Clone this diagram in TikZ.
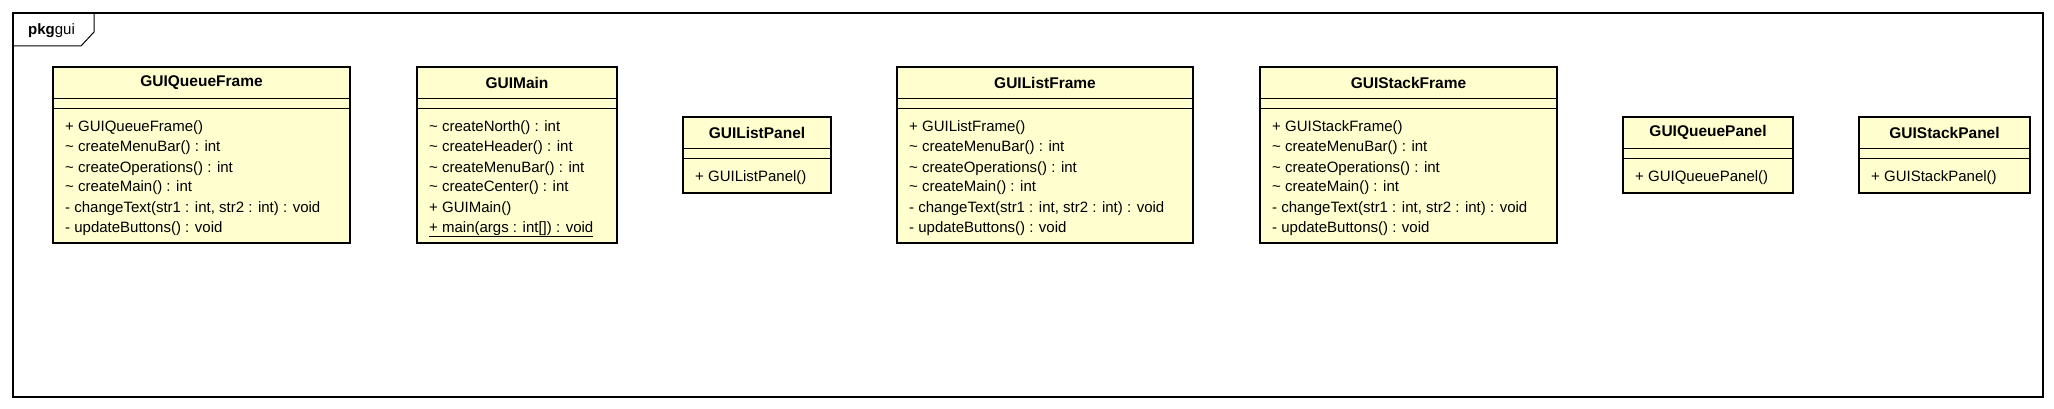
\documentclass[tikz,border=0pt]{standalone}
\usepackage{fontspec}
\setmainfont{Liberation Sans}
\definecolor{classfill}{HTML}{FEFECE}
\tikzset{
	classbox/.style={draw,line width=2.4pt,fill=classfill,rectangle,outer sep=0pt,inner sep=0pt,anchor=north west},
	classname/.style={font=\fontsize{15.5}{17}\bfseries\selectfont,inner sep=0pt},
	member/.style={font=\fontsize{15}{17}\selectfont,anchor=base west,inner sep=0pt},
	sep/.style={line width=0.9pt}
}
\begin{document}
\begin{tikzpicture}[x=1pt,y=-1pt]
		\useasboundingbox (0,0) rectangle (2054,409);
		% package frame
		\draw[line width=1.2pt] (13,13) rectangle (2043,397);
		\draw[line width=1pt] (94,13) -- (94,32) -- (81,46) -- (13,46);
		\node[member] (pkg) at (28,35) {\textbf{pkg}gui};
		% GUIQueueFrame
		\node[classbox,minimum width=297pt,minimum height=176pt] (qframe) at (53,67) {};
		\node[classname] (qframe-t) at ([yshift=-15.5pt]qframe.north) {GUIQueueFrame};
		\draw[sep] ([yshift=-31pt]qframe.north west) -- ([yshift=-31pt]qframe.north east);
		\draw[sep] ([yshift=-41pt]qframe.north west) -- ([yshift=-41pt]qframe.north east);
		\foreach \m [count=\i from 0] in {+ GUIQueueFrame(),\textasciitilde{} createMenuBar() : int,\textasciitilde{} createOperations() : int,\textasciitilde{} createMain() : int,{- changeText(str1 : int, str2 : int) : void},- updateButtons() : void}
			\node[member] (qframe-\i) at ([xshift=12pt,yshift={-65pt-20pt*\i}]qframe.north west) {\m};
		% GUIMain
		\node[classbox,minimum width=200pt,minimum height=176pt] (main) at (417,67) {};
		\node[classname] (main-t) at ([yshift=-15.5pt]main.north) {GUIMain};
		\draw[sep] ([yshift=-31pt]main.north west) -- ([yshift=-31pt]main.north east);
		\draw[sep] ([yshift=-41pt]main.north west) -- ([yshift=-41pt]main.north east);
		\foreach \m [count=\i from 0] in {\textasciitilde{} createNorth() : int,\textasciitilde{} createHeader() : int,\textasciitilde{} createMenuBar() : int,\textasciitilde{} createCenter() : int,+ GUIMain(),\underline{+ main(args : int[]) : void}}
			\node[member] (main-\i) at ([xshift=12pt,yshift={-65pt-20pt*\i}]main.north west) {\m};
		% GUIListPanel
		\node[classbox,minimum width=148pt,minimum height=76pt] (lpanel) at (683,117) {};
		\node[classname] (lpanel-t) at ([yshift=-15.5pt]lpanel.north) {GUIListPanel};
		\draw[sep] ([yshift=-31pt]lpanel.north west) -- ([yshift=-31pt]lpanel.north east);
		\draw[sep] ([yshift=-41pt]lpanel.north west) -- ([yshift=-41pt]lpanel.north east);
		\node[member] (lpanel-0) at ([xshift=12pt,yshift=-65pt]lpanel.north west) {+ GUIListPanel()};
		% GUIListFrame
		\node[classbox,minimum width=296pt,minimum height=176pt] (lframe) at (897,67) {};
		\node[classname] (lframe-t) at ([yshift=-15.5pt]lframe.north) {GUIListFrame};
		\draw[sep] ([yshift=-31pt]lframe.north west) -- ([yshift=-31pt]lframe.north east);
		\draw[sep] ([yshift=-41pt]lframe.north west) -- ([yshift=-41pt]lframe.north east);
		\foreach \m [count=\i from 0] in {+ GUIListFrame(),\textasciitilde{} createMenuBar() : int,\textasciitilde{} createOperations() : int,\textasciitilde{} createMain() : int,{- changeText(str1 : int, str2 : int) : void},- updateButtons() : void}
			\node[member] (lframe-\i) at ([xshift=12pt,yshift={-65pt-20pt*\i}]lframe.north west) {\m};
		% GUIStackFrame
		\node[classbox,minimum width=297pt,minimum height=176pt] (sframe) at (1260,67) {};
		\node[classname] (sframe-t) at ([yshift=-15.5pt]sframe.north) {GUIStackFrame};
		\draw[sep] ([yshift=-31pt]sframe.north west) -- ([yshift=-31pt]sframe.north east);
		\draw[sep] ([yshift=-41pt]sframe.north west) -- ([yshift=-41pt]sframe.north east);
		\foreach \m [count=\i from 0] in {+ GUIStackFrame(),\textasciitilde{} createMenuBar() : int,\textasciitilde{} createOperations() : int,\textasciitilde{} createMain() : int,{- changeText(str1 : int, str2 : int) : void},- updateButtons() : void}
			\node[member] (sframe-\i) at ([xshift=12pt,yshift={-65pt-20pt*\i}]sframe.north west) {\m};
		% GUIQueuePanel
		\node[classbox,minimum width=170pt,minimum height=76pt] (qpanel) at (1623,117) {};
		\node[classname] (qpanel-t) at ([yshift=-15.5pt]qpanel.north) {GUIQueuePanel};
		\draw[sep] ([yshift=-31pt]qpanel.north west) -- ([yshift=-31pt]qpanel.north east);
		\draw[sep] ([yshift=-41pt]qpanel.north west) -- ([yshift=-41pt]qpanel.north east);
		\node[member] (qpanel-0) at ([xshift=12pt,yshift=-65pt]qpanel.north west) {+ GUIQueuePanel()};
		% GUIStackPanel
		\node[classbox,minimum width=171pt,minimum height=76pt] (spanel) at (1859,117) {};
		\node[classname] (spanel-t) at ([yshift=-15.5pt]spanel.north) {GUIStackPanel};
		\draw[sep] ([yshift=-31pt]spanel.north west) -- ([yshift=-31pt]spanel.north east);
		\draw[sep] ([yshift=-41pt]spanel.north west) -- ([yshift=-41pt]spanel.north east);
		\node[member] (spanel-0) at ([xshift=12pt,yshift=-65pt]spanel.north west) {+ GUIStackPanel()};
\end{tikzpicture}
\end{document}
